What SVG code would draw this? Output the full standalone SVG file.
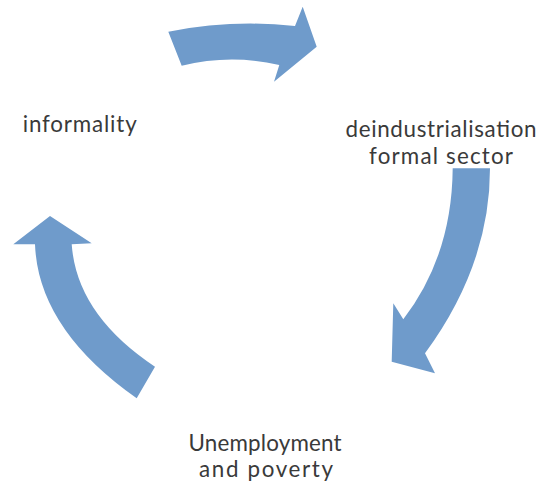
<svg xmlns="http://www.w3.org/2000/svg" width="542" height="484" viewBox="0 0 542 484">
<style>
.arrow{fill:#6f9bcb;stroke:none}
.lbl{font-family:Lato,"Open Sans","Liberation Sans",sans-serif;font-size:22.4px;fill:#3a3a3a;text-anchor:middle}
</style>
<rect width="542" height="484" fill="#ffffff"/>
<g id="connectors">
<path id="arrow-top" class="arrow" d="M168.3,31.7 Q231.7,19.2 295,26 L302.7,6.7 L316.7,46.7 L274,81.7 L279.3,65 Q230.5,53.7 181.7,65.7 Z"/>
<path id="arrow-right" class="arrow" d="M452.7,168.3 L490,168.3 Q490,265 425,353.3 L435,373.3 L391.7,361.7 L393.3,303.3 L403.3,319.3 Q452,256 452.7,168.3 Z"/>
<path id="arrow-left" class="arrow" d="M155,366.7 L136.7,398.3 Q38.2,329 35,244.3 L13.3,244.3 L50,216 L91.7,243.3 L71.7,244.3 Q76.7,314.7 155,366.7 Z"/>
</g>
<g id="node-informality">
<text class="lbl" x="79.7" y="131.7" textLength="114" lengthAdjust="spacing">informality</text>
</g>
<g id="node-deindustrialisation">
<text class="lbl" x="441" y="137.3" textLength="191" lengthAdjust="spacing">deindustrialisation</text>
<text class="lbl" x="441" y="164.3" textLength="144" lengthAdjust="spacing">formal sector</text>
</g>
<g id="node-unemployment">
<text class="lbl" x="265" y="450.7" textLength="153" lengthAdjust="spacing">Unemployment</text>
<text class="lbl" x="266" y="476.7" textLength="134" lengthAdjust="spacing">and poverty</text>
</g>
</svg>
